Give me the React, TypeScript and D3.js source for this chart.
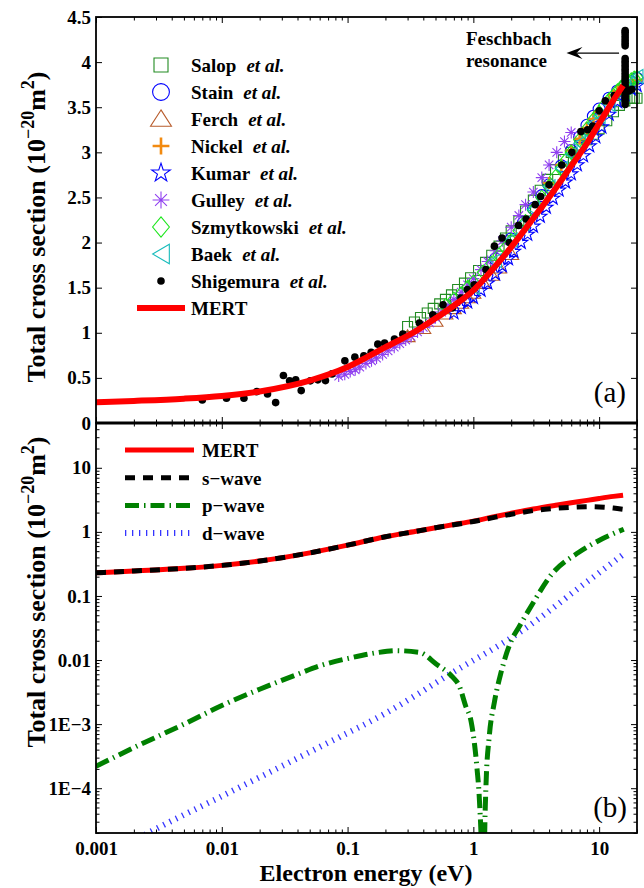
import React, { useEffect, useRef } from "react"
import * as d3 from "d3"

// ---- axis ticks ----
const xTicks = [0.001, 0.01, 0.1, 1, 10]
const xTickLabels = ["0.001", "0.01", "0.1", "1", "10"]
const topYTicks = [0, 0.5, 1, 1.5, 2, 2.5, 3, 3.5, 4, 4.5]
const topYTickLabels = ["0", "0.5", "1", "1.5", "2", "2.5", "3", "3.5", "4", "4.5"]
const botYTicks = [1e-4, 1e-3, 0.01, 0.1, 1, 10]
const botYTickLabels = ["1E\u22124", "1E\u22123", "0.01", "0.1", "1", "10"]

// ---- theory curves [energy eV, cross section] ----
const mert = [
    [0.001, 0.23], [0.002, 0.245], [0.005, 0.27], [0.01, 0.3], [0.02, 0.35],
    [0.05, 0.47], [0.1, 0.62], [0.2, 0.84], [0.35, 1.02], [0.5, 1.16],
    [0.7, 1.3], [1, 1.47], [1.5, 1.74], [2, 1.95], [3, 2.27], [4.5, 2.6],
    [6, 2.85], [8, 3.1], [10, 3.32], [13, 3.58], [15.5, 3.74],
]
const sWave = [
    [0.001, 0.23], [0.002, 0.245], [0.005, 0.27], [0.01, 0.3], [0.02, 0.35],
    [0.05, 0.47], [0.1, 0.62], [0.2, 0.84], [0.35, 1.02], [0.5, 1.16],
    [0.7, 1.29], [1, 1.45], [1.5, 1.7], [2, 1.88], [3, 2.15], [4.2, 2.3],
    [6, 2.42], [8.5, 2.47], [11, 2.42], [13, 2.35], [15.5, 2.25],
]
const pWave = [
    [0.001, 2.2e-4], [0.002, 4.3e-4], [0.005, 1.0e-3], [0.01, 1.95e-3],
    [0.02, 3.5e-3], [0.04, 6.0e-3], [0.06, 8.1e-3], [0.11, 1.1e-2],
    [0.17, 1.3e-2], [0.243, 1.4e-2], [0.372, 1.32e-2], [0.506, 8.7e-3],
    [0.685, 5.4e-3], [0.77, 4.0e-3], [0.87, 1.9e-3], [0.96, 1.1e-3],
    [1.02, 5e-4], [1.07, 2e-4], [1.12, 6e-5], [1.17, 5e-6], [1.195, 1e-8],
    [1.22, 5e-6], [1.26, 1.1e-4], [1.34, 6.6e-4], [1.47, 2.2e-3],
    [1.66, 6.4e-3], [1.98, 0.019], [2.33, 0.034], [2.95, 0.075],
    [4.21, 0.22], [6.9, 0.48], [10.6, 0.78], [15.7, 1.1],
]
const dWave = [
    [0.001, 7e-6], [0.0026, 2.0e-5], [0.01, 7.5e-5], [0.06, 4.4e-4],
    [0.203, 1.5e-3], [0.685, 6.4e-3], [2.33, 0.027], [7.8, 0.16], [15.7, 0.45],
]

// ---- experiments [energy eV, cross section] ----
const salop = [
    [0.3, 1.07], [0.34, 1.12], [0.38, 1.17], [0.43, 1.22], [0.48, 1.27],
    [0.54, 1.32], [0.6, 1.37], [0.67, 1.42], [0.75, 1.48], [0.85, 1.55],
    [0.95, 1.61], [1.1, 1.69], [1.25, 1.78], [1.4, 1.86], [1.6, 1.96],
    [1.8, 2.05], [2.0, 2.13], [2.3, 2.24], [2.6, 2.35], [3.0, 2.47],
    [3.4, 2.58], [3.9, 2.7], [4.5, 2.81], [5.2, 2.92], [6.0, 3.0],
    [7.0, 3.08], [8.0, 3.14], [9.0, 3.2], [10, 3.26], [11.5, 3.35],
    [13, 3.45], [14.5, 3.52], [16, 3.57], [17.5, 3.6], [19, 3.6], [20, 3.6],
]
const stain = [
    [1.5, 1.82], [2.0, 2.04], [2.5, 2.22], [3.0, 2.38], [3.5, 2.52],
    [4.0, 2.64], [5.0, 2.85], [6.0, 3.02], [7.0, 3.17], [8.0, 3.3],
    [9.0, 3.4], [10, 3.48], [12, 3.6], [14, 3.68], [16, 3.74], [18, 3.78],
    [20, 3.82],
]
const ferch = [
    [0.3, 0.96], [0.4, 1.05], [0.5, 1.13], [0.6, 1.21], [0.7, 1.27],
    [0.8, 1.33], [0.9, 1.39], [1.0, 1.44], [1.2, 1.55], [1.4, 1.64],
    [1.6, 1.72], [2.0, 1.87],
]
const nickel = [
    [4.0, 2.66], [5.0, 2.86], [6.0, 3.02], [7.0, 3.15], [8.0, 3.27],
    [9.0, 3.37], [10, 3.45], [12, 3.58], [14, 3.68], [16, 3.74], [18, 3.78],
    [20, 3.8],
]
const kumar = [
    [0.7, 1.22], [0.8, 1.28], [0.9, 1.34], [1.0, 1.39], [1.15, 1.47],
    [1.3, 1.55], [1.5, 1.65], [1.7, 1.74], [1.9, 1.82], [2.1, 1.9],
    [2.4, 2.0], [2.7, 2.09], [3.0, 2.18], [3.4, 2.29], [3.8, 2.39],
    [4.3, 2.49], [4.8, 2.58], [5.4, 2.67], [6.0, 2.76], [6.7, 2.86],
    [7.5, 2.96], [8.4, 3.07], [9.4, 3.17], [10.5, 3.28], [12, 3.42],
    [14, 3.56], [16, 3.64], [18, 3.7], [20, 3.74],
]
const gulley = [
    [0.085, 0.52], [0.095, 0.54], [0.105, 0.57], [0.115, 0.59], [0.125, 0.62],
    [0.14, 0.66], [0.155, 0.69], [0.17, 0.72], [0.19, 0.76], [0.21, 0.8],
    [0.235, 0.84], [0.26, 0.88], [0.29, 0.92], [0.32, 0.96], [0.36, 1.01],
    [0.4, 1.06], [0.45, 1.11], [0.5, 1.17], [0.56, 1.23], [0.63, 1.3],
    [0.7, 1.37], [0.8, 1.45], [0.9, 1.53], [1.0, 1.6], [1.15, 1.7],
    [1.3, 1.79], [1.5, 1.91], [1.7, 2.02], [2.0, 2.17], [2.3, 2.3],
    [2.6, 2.42], [3.0, 2.56], [3.5, 2.72], [4.0, 2.86], [4.6, 3.0],
    [5.3, 3.12], [6.0, 3.22],
]
const szmytkowski = [
    [0.6, 1.3], [0.7, 1.37], [0.8, 1.43], [0.9, 1.5], [1.0, 1.56],
    [1.2, 1.67], [1.4, 1.77], [1.6, 1.86], [1.8, 1.94], [2.0, 2.02],
    [2.3, 2.13], [2.6, 2.23], [3.0, 2.36], [3.5, 2.5], [4.0, 2.62],
    [4.5, 2.73], [5.0, 2.83], [5.5, 2.92], [6.0, 3.0], [7.0, 3.14],
    [8.0, 3.26], [9.0, 3.36], [10, 3.44], [11, 3.52], [12, 3.58],
    [13, 3.63], [14, 3.68], [15, 3.72], [16, 3.75], [17, 3.78], [18, 3.8],
    [19, 3.82], [20, 3.83],
]
const baek = [
    [1.0, 1.5], [1.5, 1.8], [2.0, 2.03], [2.5, 2.21], [3.0, 2.37],
    [4.0, 2.62], [5.0, 2.82], [6.0, 2.98], [7.0, 3.1], [8.0, 3.22],
    [9.0, 3.32], [10, 3.4], [12, 3.53], [14, 3.63], [16, 3.72], [18, 3.78],
    [20, 3.84],
]
const shigemura = [
    [0.007, 0.256], [0.0109, 0.274], [0.015, 0.274], [0.019, 0.348],
    [0.0231, 0.322], [0.0268, 0.226], [0.0309, 0.526], [0.0346, 0.467],
    [0.0387, 0.478], [0.0428, 0.359], [0.0506, 0.467], [0.058, 0.478],
    [0.0667, 0.47], [0.0752, 0.544], [0.0952, 0.689], [0.1143, 0.73],
    [0.1346, 0.744], [0.154, 0.785], [0.174, 0.874], [0.197, 0.885],
    [0.236, 0.93], [0.275, 0.985], [0.372, 1.108], [0.476, 1.2],
    [0.574, 1.311], [0.68, 1.274], [0.796, 1.385], [0.898, 1.478],
    [1.015, 1.533], [1.26, 1.7], [1.47, 1.96], [1.69, 2.05], [1.93, 2.0],
    [2.29, 2.19], [2.63, 2.26], [3.1, 2.42], [3.43, 2.51], [4.0, 2.64],
    [5.05, 2.86], [6.07, 3.0], [7.16, 3.23], [8.1, 3.25], [8.9, 3.29],
    [10.0, 3.46], [11.2, 3.57], [13.2, 3.63],
    // resonance bunch near 16 eV
    [16.1, 3.53], [16.1, 3.56], [16.1, 3.59], [16.1, 3.62], [16.1, 3.65],
    [16.1, 3.68], [16.1, 3.71], [16.1, 3.74], [16.1, 3.77], [16.1, 3.8],
    [16.1, 3.83], [16.1, 3.86], [16.1, 3.89], [16.1, 3.92], [16.1, 3.95],
    [16.1, 3.98], [16.1, 4.01], [16.1, 4.04], [16.1, 4.18], [16.1, 4.21],
    [16.1, 4.24], [16.1, 4.27], [16.1, 4.3], [16.1, 4.33], [16.1, 4.35],
    [17.2, 3.68], [18.2, 3.7],
]

const FONT = "'Liberation Serif','Times New Roman',Times,serif"

const topSeries = [
    { name: "Salop", data: salop, shape: "square", color: "#228b22" },
    { name: "Stain", data: stain, shape: "circle", color: "#0000ff" },
    { name: "Ferch", data: ferch, shape: "triangle", color: "#b85c2c" },
    { name: "Nickel", data: nickel, shape: "plus", color: "#f28a10" },
    { name: "Kumar", data: kumar, shape: "star", color: "#0000ff" },
    { name: "Gulley", data: gulley, shape: "asterisk", color: "#9040f0" },
    { name: "Szmytkowski", data: szmytkowski, shape: "diamond", color: "#1ee61e" },
    { name: "Baek", data: baek, shape: "lefttri", color: "#1abcbc" },
    { name: "Shigemura", data: shigemura, shape: "dot", color: "#000000" },
]

function drawMarker(g, shape, cx, cy, k, color) {
    const sw = 1.1
    if (shape === "dot") {
        g.append("circle").attr("cx", cx).attr("cy", cy).attr("r", 3.8).attr("fill", color)
        return
    }
    if (shape === "circle") {
        g.append("circle").attr("cx", cx).attr("cy", cy).attr("r", 6 * k)
            .attr("fill", "none").attr("stroke", color).attr("stroke-width", sw)
        return
    }
    let d = ""
    if (shape === "square") {
        const h = 5 * k
        d = `M${-h},${-h}h${2 * h}v${2 * h}h${-2 * h}Z`
    } else if (shape === "triangle") {
        const h = 6.5 * k
        d = `M0,${-h}L${h * 1.15},${h * 0.8}L${-h * 1.15},${h * 0.8}Z`
    } else if (shape === "lefttri") {
        const h = 7 * k
        d = `M${-h * 0.85},0L${h * 0.85},${-h}L${h * 0.85},${h}Z`
    } else if (shape === "diamond") {
        const h = 6 * k
        d = `M0,${-h * 1.2}L${h},0L0,${h * 1.2}L${-h},0Z`
    } else if (shape === "star") {
        const R = 7 * k
        const pts = d3.range(10).map((i) => {
            const a = (-90 + i * 36) * Math.PI / 180
            const r = i % 2 === 0 ? R : R * 0.382
            return [r * Math.cos(a), r * Math.sin(a)]
        })
        d = "M" + pts.map((p) => p[0].toFixed(2) + "," + p[1].toFixed(2)).join("L") + "Z"
    } else if (shape === "asterisk") {
        const R = 6 * k
        const q = R * Math.SQRT1_2
        d = `M${-R},0H${R}M0,${-R}V${R}M${-q},${-q}L${q},${q}M${-q},${q}L${q},${-q}`
    } else if (shape === "plus") {
        const R = 6 * k
        d = `M${-R},0H${R}M0,${-R}V${R}`
        g.append("path").attr("d", d).attr("transform", `translate(${cx},${cy})`)
            .attr("fill", "none").attr("stroke", color).attr("stroke-width", 2.6)
        return
    }
    g.append("path").attr("d", d).attr("transform", `translate(${cx},${cy})`)
        .attr("fill", "none").attr("stroke", color).attr("stroke-width", sw)
}

const App = () => {
    const svgRef = useRef(null)

    useEffect(() => {
        const svg = d3.select(svgRef.current)
        svg.selectAll("*").remove()

        const L = 96, R = 637, T1 = 17, B1 = 423, B2 = 833
        const x = d3.scaleLog().domain([0.001, 20]).range([L, R])
        const yTop = d3.scaleLinear().domain([0, 4.5]).range([B1, T1])
        const yBot = d3.scaleLog().domain([2e-5, 50]).range([B2, B1])

        const defs = svg.append("defs")
        defs.append("clipPath").attr("id", "clipTop").append("rect")
            .attr("x", L).attr("y", T1).attr("width", R - L).attr("height", B1 - T1)
        defs.append("clipPath").attr("id", "clipBot").append("rect")
            .attr("x", L).attr("y", B1).attr("width", R - L).attr("height", B2 - B1)

        const minorX = x.ticks().filter((v) => !xTicks.some((t) => Math.abs(t - v) < t * 1e-6))
        const minorY = yBot.ticks().filter((v) => !botYTicks.some((t) => Math.abs(t - v) < t * 1e-6))

        const styleAxis = (g) => {
            g.select(".domain").remove()
            g.selectAll("line").attr("stroke", "#000").attr("stroke-width", 1)
            g.attr("font-family", FONT).attr("font-size", 19).attr("font-weight", "bold")
            g.selectAll("text").attr("fill", "#000")
        }
        const addAxis = (axis, tx, ty) => {
            svg.append("g").attr("transform", `translate(${tx},${ty})`).call(axis).call(styleAxis)
        }
        const none = () => ""

        // ---- top panel axes ----
        addAxis(d3.axisLeft(yTop).tickValues(topYTicks).tickSize(-6).tickPadding(5)
            .tickFormat((d, i) => topYTickLabels[i]), L, 0)
        addAxis(d3.axisRight(yTop).tickValues(topYTicks).tickSize(-6).tickFormat(none), R, 0)
        addAxis(d3.axisTop(x).tickValues(xTicks).tickSize(-6).tickFormat(none), 0, T1)
        addAxis(d3.axisTop(x).tickValues(minorX).tickSize(-3.5).tickFormat(none), 0, T1)
        addAxis(d3.axisBottom(x).tickValues(xTicks).tickSize(-6).tickFormat(none), 0, B1)
        addAxis(d3.axisBottom(x).tickValues(minorX).tickSize(-3.5).tickFormat(none), 0, B1)

        // ---- bottom panel axes ----
        addAxis(d3.axisLeft(yBot).tickValues(botYTicks).tickSize(-6).tickPadding(5)
            .tickFormat((d, i) => botYTickLabels[i]), L, 0)
        addAxis(d3.axisLeft(yBot).tickValues(minorY).tickSize(-3.5).tickFormat(none), L, 0)
        addAxis(d3.axisRight(yBot).tickValues(botYTicks).tickSize(-6).tickFormat(none), R, 0)
        addAxis(d3.axisRight(yBot).tickValues(minorY).tickSize(-3.5).tickFormat(none), R, 0)
        addAxis(d3.axisTop(x).tickValues(xTicks).tickSize(-6).tickFormat(none), 0, B1)
        addAxis(d3.axisTop(x).tickValues(minorX).tickSize(-3.5).tickFormat(none), 0, B1)
        addAxis(d3.axisBottom(x).tickValues(xTicks).tickSize(-6).tickPadding(9)
            .tickFormat((d, i) => xTickLabels[i]), 0, B2)
        addAxis(d3.axisBottom(x).tickValues(minorX).tickSize(-3.5).tickFormat(none), 0, B2)

        // ---- top panel data ----
        const gTop = svg.append("g")
        topSeries.forEach((s) => {
            const g = gTop.append("g")
            s.data.forEach((d) => drawMarker(g, s.shape, x(d[0]), yTop(d[1]), 1, s.color))
        })
        const lineTop = d3.line().x((d) => x(d[0])).y((d) => yTop(d[1])).curve(d3.curveMonotoneX)
        svg.append("path").attr("d", lineTop(mert)).attr("clip-path", "url(#clipTop)")
            .attr("fill", "none").attr("stroke", "#ff0000").attr("stroke-width", 6)

        // ---- bottom panel curves ----
        const lineBot = d3.line().x((d) => x(d[0])).y((d) => yBot(d[1])).curve(d3.curveMonotoneX)
        const gBot = svg.append("g").attr("clip-path", "url(#clipBot)")
        const botStyles = [
            { name: "MERT", data: mert, color: "#ff0000", width: 5, dash: null },
            { name: "s\u2212wave", data: sWave, color: "#000000", width: 5, dash: "10,8" },
            { name: "p\u2212wave", data: pWave, color: "#008000", width: 5, dash: "14,5,1.5,5" },
            { name: "d\u2212wave", data: dWave, color: "#3535ff", width: 6, dash: "1.3,5.7" },
        ]
        const drawOrder = [3, 2, 0, 1]
        drawOrder.forEach((i) => {
            const s = botStyles[i]
            gBot.append("path").attr("d", lineBot(s.data)).attr("fill", "none")
                .attr("stroke", s.color).attr("stroke-width", s.width)
                .attr("stroke-dasharray", s.dash)
        })

        // ---- frames ----
        svg.append("rect").attr("x", L).attr("y", T1).attr("width", R - L).attr("height", B1 - T1)
            .attr("fill", "none").attr("stroke", "#000").attr("stroke-width", 1.8)
        svg.append("rect").attr("x", L).attr("y", B1).attr("width", R - L).attr("height", B2 - B1)
            .attr("fill", "none").attr("stroke", "#000").attr("stroke-width", 1.8)
        svg.append("line").attr("x1", L).attr("x2", R).attr("y1", B1).attr("y2", B1)
            .attr("stroke", "#000").attr("stroke-width", 3)

        // ---- top legend ----
        const lg = svg.append("g").attr("font-family", FONT).attr("font-size", 19).attr("font-weight", "bold")
        topSeries.forEach((s, i) => {
            const cy = 65 + i * 27
            drawMarker(lg, s.shape, 161, cy, 1.4, s.color)
            const t = lg.append("text").attr("x", 191).attr("y", cy + 7)
            t.append("tspan").text(s.name)
            t.append("tspan").attr("dx", 10).attr("font-style", "italic").text("et al.")
        })
        const mertY = 65 + 9 * 27
        lg.append("line").attr("x1", 137).attr("x2", 185).attr("y1", mertY).attr("y2", mertY)
            .attr("stroke", "#ff0000").attr("stroke-width", 6)
        lg.append("text").attr("x", 191).attr("y", mertY + 7).text("MERT")

        // ---- bottom legend ----
        botStyles.forEach((s, i) => {
            const cy = 450 + i * 27.7
            lg.append("line").attr("x1", 125).attr("x2", 194).attr("y1", cy).attr("y2", cy)
                .attr("stroke", s.color).attr("stroke-width", s.width).attr("stroke-dasharray", s.dash)
            lg.append("text").attr("x", 202).attr("y", cy + 7).text(s.name)
        })

        // ---- Feschbach annotation ----
        const ay = yTop(4.1)
        const tip = x(5.5)
        svg.append("line").attr("x1", tip + 10).attr("x2", x(14.4)).attr("y1", ay).attr("y2", ay)
            .attr("stroke", "#000").attr("stroke-width", 1.3)
        svg.append("path")
            .attr("d", `M${tip},${ay}L${tip + 16},${ay - 6}L${tip + 10},${ay}L${tip + 16},${ay + 6}Z`)
            .attr("fill", "#000")
        const ann = svg.append("g").attr("font-family", FONT).attr("font-size", 19).attr("font-weight", "bold")
        ann.append("text").attr("x", 466).attr("y", 45).text("Feschbach")
        ann.append("text").attr("x", 466).attr("y", 67).text("resonance")

        // ---- panel labels ----
        svg.append("text").attr("x", 626).attr("y", 402).attr("text-anchor", "end")
            .attr("font-family", FONT).attr("font-size", 29).text("(a)")
        svg.append("text").attr("x", 627).attr("y", 817).attr("text-anchor", "end")
            .attr("font-family", FONT).attr("font-size", 29).text("(b)")

        // ---- axis titles ----
        const yTitle = (cy) => {
            const t = svg.append("text").attr("transform", `translate(45,${cy}) rotate(-90)`)
                .attr("text-anchor", "middle").attr("font-family", FONT)
                .attr("font-size", 26).attr("font-weight", "bold")
            t.append("tspan").text("Total cross section (10")
            t.append("tspan").attr("font-size", 18).attr("dy", -11).text("\u221220")
            t.append("tspan").attr("dy", 11).text("m")
            t.append("tspan").attr("font-size", 18).attr("dy", -11).text("2")
            t.append("tspan").attr("dy", 11).text(")")
        }
        yTitle(227)
        yTitle(592)

        svg.append("text").attr("x", 366).attr("y", 881).attr("text-anchor", "middle")
            .attr("font-family", FONT).attr("font-size", 24).attr("font-weight", "bold")
            .text("Electron energy (eV)")
    }, [])

    return (
        <div style={{ position: "absolute", left: 0, top: 0 }}>
            <svg ref={svgRef} width={644} height={888} style={{ display: "block", background: "#fff" }} />
        </div>
    )
}

export default App
